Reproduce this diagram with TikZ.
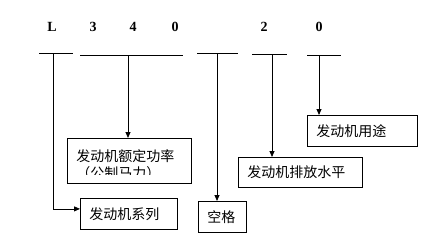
\documentclass[tikz,border=0pt]{standalone}
\usepackage{fontspec}
\setmainfont{Liberation Serif}
\newfontfamily\cjk{Noto Sans CJK SC}
\usetikzlibrary{arrows.meta, positioning}

\begin{document}
\begin{tikzpicture}[x=1pt, y=1pt, line width=0.8pt,
    code/.style={font=\fontsize{14}{16}\selectfont\bfseries},
    box/.style={draw, anchor=north west, inner xsep=9pt, inner ysep=0pt, align=left,
        font=\fontsize{14}{17}\selectfont\cjk},
    arr/.style={-{Triangle[length=6pt, width=5pt]}}]
    \useasboundingbox (0,0) rectangle (424,-244);
    % code letters
    \node[code] (cL) at (52,-27) {L};
    \node[code] (c3) at (93,-27) {3};
    \node[code] (c4) at (133,-27) {4};
    \node[code] (c0) at (175,-27) {0};
    \node[code] (c2) at (264,-27) {2};
    \node[code] (c0b) at (319,-27) {0};
    % underlines
    \coordinate (mL) at (53,-53);
    \coordinate (mPow) at (128,-55);
    \coordinate (mGap) at (217,-53);
    \coordinate (mEmi) at (272,-54);
    \coordinate (mUse) at (319,-55);
    \draw (39,-53) -- (73,-53);
    \draw (80,-55) -- (183,-55);
    \draw (197,-53) -- (238,-53);
    \draw (252,-54) -- (287,-54);
    \draw (307,-55) -- (341,-55);
    % boxes
    \node[box, text width=92pt, minimum height=31pt] (use) at (307,-115) {发动机用途};
    \node[box, text width=106pt, minimum height=45pt] (power) at (67,-138) {};
    \begin{scope}
        \clip (power.north west) rectangle ([yshift=9pt]power.south east);
        \node[box, draw=none, text width=106pt, inner ysep=11pt] (powtxt) at (power.north west) {发动机额定功率\\（公制马力）};
    \end{scope}
    \node[box, text width=106pt, minimum height=30pt] (emis) at (238,-157) {发动机排放水平};
    \node[box, text width=30pt, minimum height=31pt] (gap) at (198,-201) {空格};
    \node[box, text width=79pt, minimum height=31pt] (series) at (80,-198) {发动机系列};
    % arrows
    \draw[arr] (mUse) -- (mUse |- use.north);
    \draw[arr] (mPow) -- (mPow |- power.north);
    \draw[arr] (mEmi) -- (mEmi |- emis.north);
    \draw[arr] (mGap) -- (mGap |- gap.north);
    \draw[arr] (mL) |- ([yshift=5pt]series.west);
\end{tikzpicture}
\end{document}
